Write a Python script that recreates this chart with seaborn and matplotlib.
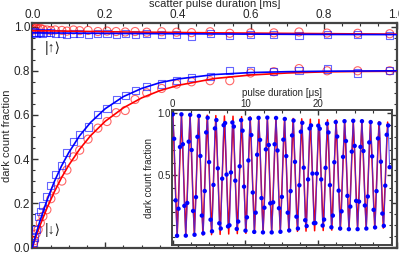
import numpy as np
import pandas as pd
import matplotlib
matplotlib.use("Agg")
import matplotlib.pyplot as plt
from matplotlib.ticker import MultipleLocator, FixedLocator
import seaborn as sns

# %%
# scatter pulse data (main panel), times in ms
t_ms = [0.003, 0.006, 0.010, 0.016, 0.022, 0.029, 0.040, 0.051, 0.063, 0.081,
        0.095, 0.113, 0.130, 0.153, 0.180, 0.205, 0.230, 0.255, 0.282, 0.314,
        0.355, 0.396, 0.437, 0.488, 0.542, 0.599, 0.663, 0.732, 0.809, 0.893, 0.981]

up_red = [0.985, 0.990, 0.993, 0.990, 0.992, 0.988, 0.985, 0.983, 0.985, 0.983,
          0.980, 0.985, 0.982, 0.983, 0.978, 0.980, 0.978, 0.976, 0.978, 0.975,
          0.977, 0.975, 0.973, 0.977, 0.970, 0.972, 0.972, 0.976, 0.971, 0.970, 0.968]
up_blue = [0.972, 0.976, 0.970, 0.975, 0.972, 0.968, 0.975, 0.972, 0.970, 0.968,
           0.966, 0.968, 0.970, 0.966, 0.970, 0.968, 0.966, 0.968, 0.964, 0.967,
           0.965, 0.963, 0.955, 0.967, 0.962, 0.966, 0.963, 0.962, 0.965, 0.963, 0.962]
dn_red = [0.015, 0.030, 0.060, 0.080, 0.110, 0.140, 0.170, 0.220, 0.260, 0.300,
          0.350, 0.410, 0.440, 0.490, 0.540, 0.570, 0.610, 0.620, 0.670, 0.700,
          0.720, 0.740, 0.750, 0.755, 0.755, 0.790, 0.796, 0.810, 0.800, 0.800, 0.800]
dn_blue = [0.020, 0.045, 0.080, 0.140, 0.160, 0.190, 0.230, 0.280, 0.330, 0.370,
           0.430, 0.480, 0.510, 0.545, 0.600, 0.630, 0.670, 0.690, 0.710, 0.730,
           0.740, 0.755, 0.770, 0.776, 0.800, 0.800, 0.796, 0.800, 0.808, 0.790, 0.800]

# fit curves
fit_t = [0.0, 0.01, 0.02, 0.04, 0.06, 0.08, 0.10, 0.13, 0.16, 0.20,
         0.25, 0.30, 0.35, 0.40, 0.50, 0.60, 0.70, 0.80, 0.90, 1.0]
fit_dn_blue = [0.0, 0.059, 0.114, 0.212, 0.296, 0.368, 0.429, 0.506, 0.566, 0.628,
               0.683, 0.720, 0.746, 0.763, 0.783, 0.792, 0.796, 0.798, 0.799, 0.800]
fit_dn_red = [0.0, 0.049, 0.094, 0.177, 0.250, 0.315, 0.372, 0.445, 0.506, 0.571,
              0.632, 0.677, 0.710, 0.734, 0.765, 0.781, 0.790, 0.795, 0.797, 0.798]
fit_up_t = [0.0, 0.25, 0.5, 0.75, 1.0]
fit_up_red = [0.982, 0.976, 0.972, 0.969, 0.966]
fit_up_blue = [0.972, 0.969, 0.967, 0.965, 0.964]

# %%
# Rabi flop data (inset), times in us
rabi_t = [round(0.2 * i, 1) for i in range(150)]
rabi_v = [0.986, 0.791, 0.297, 0.013, 0.230, 0.725, 0.987, 0.747, 0.253, 0.014,
          0.276, 0.768, 0.983, 0.701, 0.212, 0.021, 0.323, 0.807, 0.974, 0.653,
          0.175, 0.033, 0.372, 0.842, 0.960, 0.604, 0.142, 0.049, 0.421, 0.874,
          0.941, 0.554, 0.113, 0.071, 0.471, 0.900, 0.917, 0.504, 0.088, 0.097,
          0.521, 0.922, 0.889, 0.455, 0.068, 0.127, 0.570, 0.940, 0.856, 0.407,
          0.054, 0.161, 0.617, 0.952, 0.821, 0.360, 0.044, 0.198, 0.663, 0.959,
          0.782, 0.315, 0.040, 0.238, 0.706, 0.961, 0.741, 0.273, 0.040, 0.281,
          0.747, 0.958, 0.697, 0.234, 0.045, 0.325, 0.784, 0.950, 0.652, 0.198,
          0.056, 0.371, 0.818, 0.937, 0.606, 0.166, 0.071, 0.418, 0.848, 0.919,
          0.559, 0.138, 0.091, 0.465, 0.874, 0.898, 0.512, 0.114, 0.115, 0.512,
          0.896, 0.872, 0.465, 0.095, 0.143, 0.558, 0.912, 0.842, 0.419, 0.081,
          0.175, 0.603, 0.925, 0.809, 0.375, 0.071, 0.209, 0.646, 0.932, 0.773,
          0.333, 0.066, 0.247, 0.688, 0.935, 0.734, 0.293, 0.066, 0.287, 0.726,
          0.932, 0.693, 0.256, 0.071, 0.328, 0.762, 0.925, 0.650, 0.221, 0.080,
          0.371, 0.794, 0.914, 0.607, 0.191, 0.093, 0.415, 0.823, 0.898, 0.563]

# turning points of the Rabi fit curve
rabi_fit_t = [0.025, 0.615, 1.205, 1.795, 2.385, 2.975, 3.565, 4.155, 4.745, 5.335,
              5.925, 6.515, 7.105, 7.695, 8.285, 8.875, 9.465, 10.055, 10.645, 11.235,
              11.825, 12.415, 13.005, 13.595, 14.185, 14.775, 15.365, 15.955, 16.545, 17.135,
              17.725, 18.315, 18.905, 19.495, 20.085, 20.675, 21.265, 21.855, 22.445, 23.035,
              23.625, 24.215, 24.805, 25.395, 25.985, 26.575, 27.165, 27.755, 28.345, 28.935,
              29.525]
rabi_fit_v = [0.990, 0.011, 0.987, 0.014, 0.985, 0.017, 0.982, 0.019, 0.980, 0.022,
              0.977, 0.024, 0.974, 0.027, 0.972, 0.030, 0.969, 0.032, 0.967, 0.035,
              0.964, 0.037, 0.961, 0.040, 0.959, 0.043, 0.956, 0.045, 0.954, 0.048,
              0.951, 0.050, 0.948, 0.053, 0.946, 0.055, 0.943, 0.058, 0.941, 0.061,
              0.938, 0.063, 0.935, 0.066, 0.933, 0.068, 0.930, 0.071, 0.928, 0.074,
              0.925]

# %%
sns.set_theme(style="ticks")
plt.rcParams['font.family'] = ['Liberation Sans', 'DejaVu Sans']
plt.rcParams['axes.linewidth'] = 1.6
plt.rcParams['xtick.direction'] = 'in'
plt.rcParams['ytick.direction'] = 'in'

RED = '#ff0000'
BLUE = '#0000ff'

fig = plt.figure(figsize=(3.99, 2.54), dpi=100)
ax = fig.add_axes([0.081, 0.024, 0.914, 0.884])

main_df = pd.DataFrame({'t': t_ms, 'up_red': up_red, 'up_blue': up_blue,
                        'dn_red': dn_red, 'dn_blue': dn_blue})
fit_df = pd.DataFrame({'t': fit_t, 'red': fit_dn_red, 'blue': fit_dn_blue})
fitu_df = pd.DataFrame({'t': fit_up_t, 'red': fit_up_red, 'blue': fit_up_blue})

for col in ['up_red', 'dn_red']:
    sns.scatterplot(data=main_df, x='t', y=col, ax=ax, marker='o', s=34,
                    facecolor='none', edgecolor=RED, linewidth=0.8, alpha=0.6, zorder=3)
for col in ['up_blue', 'dn_blue']:
    sns.scatterplot(data=main_df, x='t', y=col, ax=ax, marker='s', s=26,
                    facecolor='none', edgecolor=BLUE, linewidth=0.8, alpha=0.6, zorder=3)

sns.lineplot(data=fit_df, x='t', y='red', ax=ax, color=RED, lw=1.2, zorder=4)
sns.lineplot(data=fit_df, x='t', y='blue', ax=ax, color=BLUE, lw=1.2, zorder=4)
sns.lineplot(data=fitu_df, x='t', y='red', ax=ax, color=RED, lw=1.2, zorder=4)
sns.lineplot(data=fitu_df, x='t', y='blue', ax=ax, color=BLUE, lw=1.2, zorder=4)

ax.set_xlim(0, 1.001)
ax.set_ylim(-0.003, 1.015)
ax.xaxis.set_major_locator(MultipleLocator(0.2))
ax.xaxis.set_minor_locator(MultipleLocator(0.05))
ax.yaxis.set_major_locator(MultipleLocator(0.2))
ax.yaxis.set_minor_locator(MultipleLocator(0.05))
ax.tick_params(which='both', top=True, right=True, labeltop=True, labelbottom=False,
               labelsize=8.5, pad=1.5, color='#333333')
ax.tick_params(which='major', length=4, width=1.0)
ax.tick_params(which='minor', length=2.5, width=0.8)
ax.xaxis.set_label_position('top')
ax.set_xlabel('scatter pulse duration [ms]', fontsize=8, labelpad=1.5)
ax.set_ylabel('dark count fraction', fontsize=8, labelpad=1.5)
ax.text(0.055, 0.905, '|↑⟩', fontsize=10, ha='center', va='center')
ax.text(0.057, 0.078, '|↓⟩', fontsize=10, ha='center', va='center')
for s in ax.spines.values():
    s.set_color('#444444')

# %%
# inset
ins = fig.add_axes([0.431, 0.035, 0.551, 0.532])
ins.set_facecolor('white')
fit_rabi = pd.DataFrame({'t': rabi_fit_t, 'v': rabi_fit_v})
data_rabi = pd.DataFrame({'t': rabi_t, 'v': rabi_v})
sns.lineplot(data=fit_rabi, x='t', y='v', ax=ins, color=RED, lw=1.1, sort=False, zorder=2)
sns.lineplot(data=data_rabi, x='t', y='v', ax=ins, color='#2a2aff', lw=0.8, alpha=0.75,
             sort=False, zorder=3)
sns.scatterplot(data=data_rabi, x='t', y='v', ax=ins, color=BLUE, s=10,
                edgecolor='none', zorder=4)
ins.set_xlim(-0.1, 30.1)
ins.set_ylim(-0.062, 1.022)
ins.xaxis.set_major_locator(FixedLocator([0, 10, 20]))
ins.xaxis.set_minor_locator(MultipleLocator(2.5))
ins.yaxis.set_major_locator(FixedLocator([0.5, 1.0]))
ins.yaxis.set_minor_locator(MultipleLocator(0.1))
ins.tick_params(which='both', top=True, right=True, labeltop=True, labelbottom=False,
                labelsize=7, pad=1, color='#333333')
ins.tick_params(which='major', length=3.5, width=1.0)
ins.tick_params(which='minor', length=2, width=0.8)
ins.xaxis.set_label_position('top')
ins.set_xlabel('pulse duration [μs]', fontsize=7, labelpad=2)
ins.set_ylabel('dark count fraction', fontsize=7, labelpad=2)
for s in ins.spines.values():
    s.set_linewidth(1.4)
    s.set_color('#444444')

fig.savefig('out.png', dpi=100)
